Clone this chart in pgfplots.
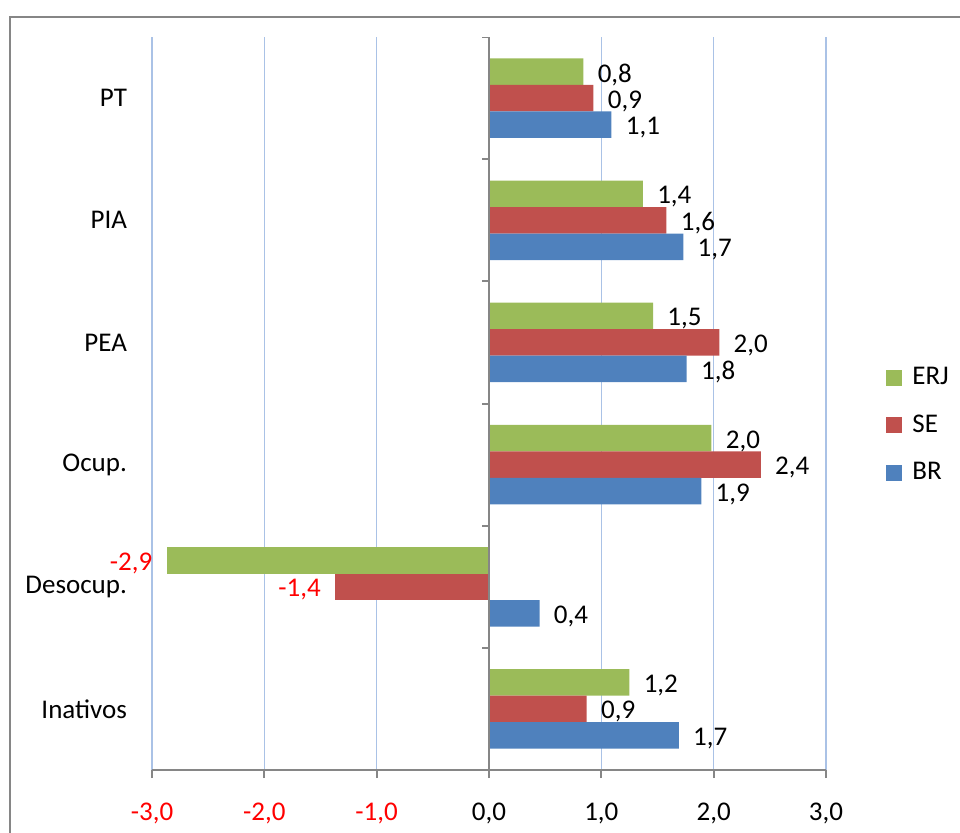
\documentclass[border=0pt]{standalone}
\usepackage{fontspec}
\setmainfont{Carlito}
\usepackage{pgfplots}
\usepackage{pgfplotstable}
\pgfplotsset{compat=1.18}

\definecolor{cERJ}{RGB}{155,187,89}
\definecolor{cSE}{RGB}{192,80,77}
\definecolor{cBR}{RGB}{79,129,189}
\definecolor{gridblue}{RGB}{170,194,230}
\definecolor{axgray}{RGB}{134,134,134}

% category positions: 5=PT ... 0=Inativos
\pgfplotstableread{
y x lab
5 0.84 0,8
4 1.37 1,4
3 1.46 1,5
2 1.98 2,0
0 1.25 1,2
}\erj
\pgfplotstableread{
y x lab
1 -2.87 -2,9
}\erjneg
\pgfplotstableread{
y x lab
5 0.93 0,9
4 1.58 1,6
3 2.05 2,0
2 2.42 2,4
0 0.87 0,9
}\se
\pgfplotstableread{
y x lab
1 -1.37 -1,4
}\seneg
\pgfplotstableread{
y x lab
5 1.09 1,1
4 1.73 1,7
3 1.76 1,8
2 1.89 1,9
1 0.45 0,4
0 1.69 1,7
}\br

\pgfplotsset{
  poslab/.style={nodes near coords,
    every node near coord/.append style={font=\fontsize{13.5}{16}\selectfont, inner xsep=7pt, yshift=-1.5pt, black, anchor=west}},
  neglab/.style={nodes near coords,
    every node near coord/.append style={font=\fontsize{13.5}{16}\selectfont, inner xsep=7pt, yshift=-1.5pt, red, anchor=east}},
}

\begin{document}
\begin{tikzpicture}
\path[use as bounding box] (-76pt,-31pt) rectangle (404pt,385pt);
\clip (-76pt,-31pt) rectangle (404pt,385pt);
\draw[axgray, line width=1.3pt] (-71pt,-60pt) rectangle (430pt,376.5pt);
\begin{axis}[
  at={(0,0)}, anchor=south west,
  scale only axis,
  width=337pt, height=366.5pt,
  xbar, bar width=13.25pt,
  xmin=-3, xmax=3, ymin=-0.5, ymax=5.5,
  axis lines*=left,
  y axis line style={draw=none},
  x axis line style={axgray, line width=1pt},
  xtick={-3,-2,-1,0,1,2,3},
  xticklabels={{\textcolor{red}{-3,0}},{\textcolor{red}{-2,0}},{\textcolor{red}{-1,0}},{0,0},{1,0},{2,0},{3,0}},
  xtick style={axgray, line width=1pt},
  tick align=outside,
  major tick length=4pt,
  ytick={0,1,2,3,4,5},
  yticklabels={Inativos,Desocup.,Ocup.,PEA,PIA,PT},
  ytick style={draw=none},
  yticklabel style={anchor=east, xshift=-5pt},
  xticklabel style={yshift=-9pt},
  ticklabel style={font=\fontsize{13.5}{16}\selectfont},
  xmajorgrids,
  grid style={gridblue, line width=0.7pt},
  point meta=explicit symbolic,
  legend style={at={(1.089,0.555)}, anchor=north west, draw=none, fill=none,
    font=\fontsize{13.5}{16}\selectfont, row sep=9.5pt, inner sep=0pt,
    nodes={inner sep=2pt, inner xsep=5pt, anchor=west}},
  legend cell align=left,
  legend image code/.code={\fill[#1] (0pt,-4pt) rectangle (8pt,4pt);},
]
\addplot[fill=cERJ, draw=none, bar shift=13.25pt, poslab] table[x=x, y=y, meta=lab] {\erj};
\addplot[fill=cSE, draw=none, bar shift=0pt, poslab] table[x=x, y=y, meta=lab] {\se};
\addplot[fill=cBR, draw=none, bar shift=-13.25pt, poslab] table[x=x, y=y, meta=lab] {\br};
\addplot[forget plot, fill=cERJ, draw=none, bar shift=13.25pt, neglab] table[x=x, y=y, meta=lab] {\erjneg};
\addplot[forget plot, fill=cSE, draw=none, bar shift=0pt, neglab] table[x=x, y=y, meta=lab] {\seneg};
\legend{ERJ,SE,BR}
\draw[axgray, line width=1pt] (axis cs:0,-0.5) -- (axis cs:0,5.5);
\pgfplotsinvokeforeach{-0.5,0.5,1.5,2.5,3.5,4.5,5.5}{
  \draw[axgray, line width=1pt] (axis cs:0,#1) -- ++(-3.5pt,0pt);
}
\end{axis}
\end{tikzpicture}
\end{document}
